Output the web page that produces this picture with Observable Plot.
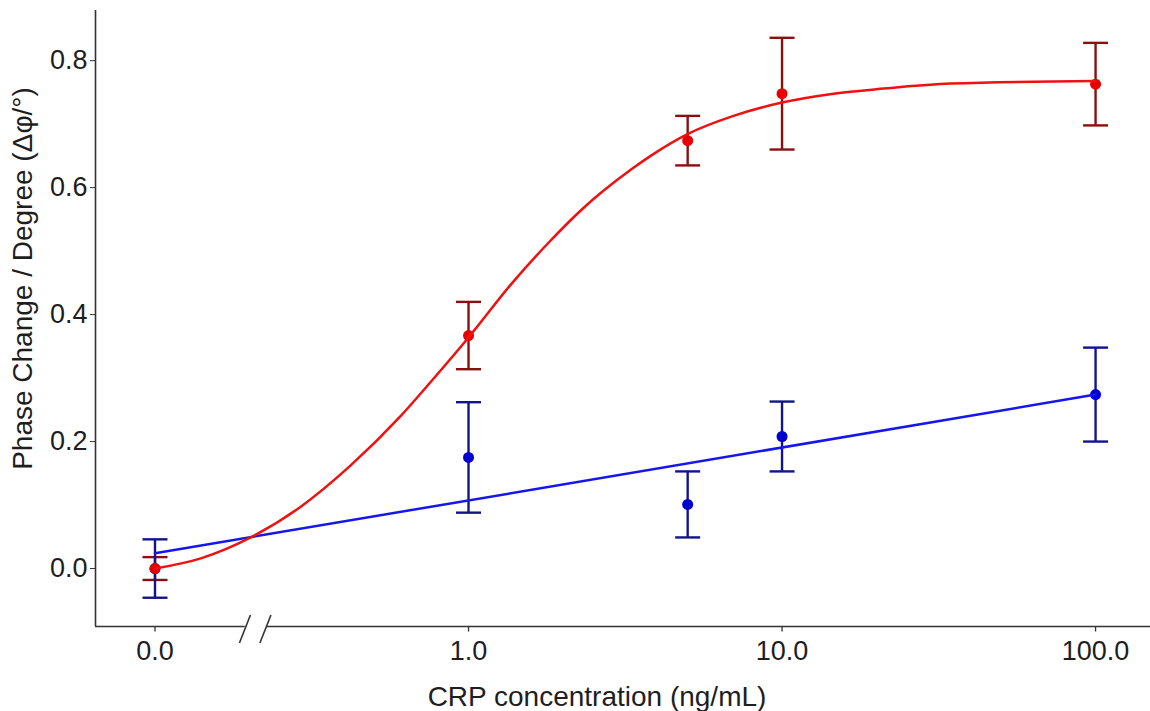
<!DOCTYPE html>
<html>
<head>
<meta charset="utf-8">
<script src="https://cdn.jsdelivr.net/npm/d3@7"></script>
<script src="https://cdn.jsdelivr.net/npm/@observablehq/plot@0.6"></script>
<style>
  html, body { margin: 0; padding: 0; background: #fff; }
  #chart svg { display: block; }
</style>
</head>
<body>
<div id="chart"></div>
<script>
// ---- data ----
const concentrations = [0, 1, 5, 10, 100];
const redMean = [0.000, 0.367, 0.674, 0.748, 0.763];
const redErr  = [0.018, 0.053, 0.039, 0.088, 0.065];
const blueMean = [0.000, 0.175, 0.101, 0.208, 0.274];
const blueErr  = [0.046, 0.087, 0.052, 0.055, 0.074];

// fitted curves (sampled along the drawn lines)
const redFitX = [0, 0.14, 0.202, 0.291, 0.42, 0.607, 0.773, 1, 1.39, 1.79, 2.28, 3.29, 3.81, 5.03, 7.0, 10, 14.6, 21.1, 34.5, 100];
const redFitY = [0.000, 0.016, 0.049, 0.097, 0.162, 0.240, 0.299, 0.364, 0.452, 0.512, 0.564, 0.628, 0.650, 0.685, 0.713, 0.734, 0.748, 0.756, 0.764, 0.768];
const blueFitX = [0, 100];
const blueFitY = [0.024, 0.274];

// axes
const xTickValues = [0, 1, 10, 100];
const xTickLabels = ["0.0", "1.0", "10.0", "100.0"];
const yTickValues = [0, 0.2, 0.4, 0.6, 0.8];
const yTickLabels = ["0.0", "0.2", "0.4", "0.6", "0.8"];
const xLabel = "CRP concentration (ng/mL)";
const yLabel = "Phase Change / Degree (\u0394\u03c6/\u00b0)";

// ---- layout ----
const zeroPosition = 0.1;            // broken axis: 0 is drawn one decade below 1
const pos = c => (c === 0 ? zeroPosition : c);
const xDomain = [0.0646, 149.7];
const yDomain = [-0.0913, 0.879];
const axisBreak = [0.194, 0.227];
const font = "'Liberation Sans', Arial, Helvetica, sans-serif";

const toRows = (means, errs) => concentrations.map((c, i) => ({
  x: pos(c), y: means[i], lo: means[i] - errs[i], hi: means[i] + errs[i]
}));
const redRows = toRows(redMean, redErr);
const blueRows = toRows(blueMean, blueErr);
const redFit = redFitX.map((c, i) => ({x: pos(c), y: redFitY[i]}));
const blueFit = blueFitX.map((c, i) => ({x: pos(c), y: blueFitY[i]}));
const xTicks = xTickValues.map((c, i) => ({x: pos(c), label: xTickLabels[i]}));

const cap = { draw(ctx) { ctx.moveTo(-12.5, 0); ctx.lineTo(12.5, 0); } };
const tickDown = { draw(ctx) { ctx.moveTo(0, 0); ctx.lineTo(0, 5); } };

const colors = {
  redLine: "#ee1111", redDot: "#e60000", redBar: "#8b0f0f",
  blueLine: "#1515ee", blueDot: "#0000d0", blueBar: "#14148a",
  axis: "#333333", text: "#1e1e1e"
};

function errorBars(rows, color) {
  return [
    Plot.ruleX(rows, {x: "x", y1: "lo", y2: "hi", stroke: color, strokeWidth: 2.4}),
    Plot.dot(rows, {x: "x", y: "hi", symbol: cap, r: 5, fill: "none", stroke: color, strokeWidth: 2.4}),
    Plot.dot(rows, {x: "x", y: "lo", symbol: cap, r: 5, fill: "none", stroke: color, strokeWidth: 2.4})
  ];
}

const breakMarks = (index, scales) => {
  const x0 = scales.x(Math.sqrt(axisBreak[0] * axisBreak[1]));
  const y0 = scales.y(yDomain[0]);
  const g = d3.create("svg:g").attr("stroke", colors.axis).attr("stroke-width", 1.6);
  for (const off of [-10.5, 10]) {
    g.append("line")
      .attr("x1", x0 + off - 5.5).attr("y1", y0 + 17)
      .attr("x2", x0 + off + 5.5).attr("y2", y0 - 11);
  }
  return g.node();
};

const chart = Plot.plot({
  width: 1150,
  height: 711,
  marginLeft: 95,
  marginRight: 0,
  marginTop: 10,
  marginBottom: 85,
  style: {fontFamily: font, fontSize: "27px", color: colors.text, background: "#fff", overflow: "visible"},
  x: {type: "log", domain: xDomain, axis: null},
  y: {domain: yDomain},
  marks: [
    Plot.dot(xTicks, {x: "x", y: yDomain[0], symbol: tickDown, r: 5, fill: "none", stroke: colors.axis, strokeWidth: 1.3}),
    Plot.text(xTicks, {x: "x", y: yDomain[0], text: "label", dy: 14, lineAnchor: "top", fontSize: 27, fill: colors.text}),
    Plot.axisY({ticks: yTickValues, tickFormat: d => yTickLabels[yTickValues.indexOf(d)], tickSize: 5, tickPadding: 3, label: null, stroke: colors.axis, fill: colors.text, fontSize: 27}),
    Plot.ruleX([xDomain[0]], {y1: yDomain[0], y2: yDomain[1], stroke: colors.axis, strokeWidth: 1.6}),
    Plot.ruleY([yDomain[0]], {x1: xDomain[0], x2: axisBreak[0], stroke: colors.axis, strokeWidth: 1.6}),
    Plot.ruleY([yDomain[0]], {x1: axisBreak[1], x2: xDomain[1], stroke: colors.axis, strokeWidth: 1.6}),
    breakMarks,
    ...errorBars(redRows, colors.redBar),
    ...errorBars(blueRows, colors.blueBar),
    Plot.dot(blueRows, {x: "x", y: "y", r: 5.5, fill: colors.blueDot}),
    Plot.dot(redRows, {x: "x", y: "y", r: 5.5, fill: colors.redDot}),
    Plot.line(blueFit, {x: "x", y: "y", stroke: colors.blueLine, strokeWidth: 2.5}),
    Plot.line(redFit, {x: "x", y: "y", stroke: colors.redLine, strokeWidth: 2.5, curve: "monotone-x"}),
    Plot.text([xLabel], {frameAnchor: "bottom", text: d => d, dx: -26, dy: 79, lineAnchor: "bottom", textAnchor: "middle", fontSize: 28, fill: colors.text}),
    Plot.text([yLabel], {frameAnchor: "left", text: d => d, dx: -72, dy: -40, rotate: -90, textAnchor: "middle", fontSize: 28, fill: colors.text})
  ]
});

document.getElementById("chart").appendChild(chart);
</script>
</body>
</html>
